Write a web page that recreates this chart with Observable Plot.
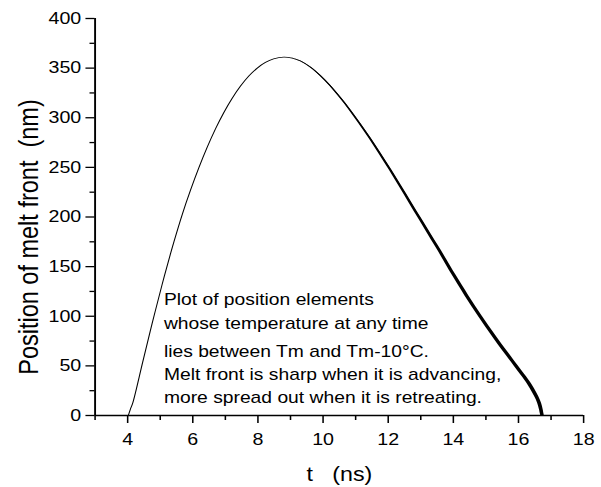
<!DOCTYPE html>
<html><head><meta charset="utf-8">
<script src="https://cdn.jsdelivr.net/npm/d3@7"></script>
<script src="https://cdn.jsdelivr.net/npm/@observablehq/plot@0.6"></script>
<style>
html,body{margin:0;padding:0;background:#fff;}
#chart{width:601px;height:487px;overflow:hidden;}
</style></head><body><div id="chart"></div>
<script>
// Advancing melt front (sharp): time (ns) and position (nm)
const tAdvance   = [4.02, 4.08, 4.16, 4.46, 4.75, 5.05, 5.32, 5.42, 5.68, 5.93, 6.19, 6.44, 6.70, 6.95, 7.21, 7.46, 7.72, 7.97, 8.23, 8.48];
const posAdvance = [0, 6, 13, 53.5, 92.5, 131, 163.5, 175, 203, 227, 249.9, 270.1, 289, 305.1, 319.7, 331.7, 342, 349.8, 355.7, 359.3];
// Retreating melt front (spread out): time, position and spread width (ns) between Tm and Tm-10
const tRetreat   = [8.79, 9.05, 9.30, 9.62, 9.92, 10.23, 10.53, 10.84, 11.14, 11.45, 11.76, 12.07, 12.37, 12.68, 12.98, 13.24, 13.50, 13.76, 14.01, 14.42, 14.83, 15.23, 15.64, 15.95, 16.26, 16.42, 16.56, 16.65, 16.70, 16.74];
const posRetreat = [361.1, 360.1, 357.2, 350.8, 342.4, 331.9, 320.3, 307.3, 293.8, 279.1, 263.6, 247.5, 231.4, 214.7, 198.5, 184.5, 170.5, 156.2, 142.2, 120.5, 100, 81.2, 62.7, 49.1, 35.5, 27.5, 19.1, 12.4, 6.3, 0];
const spreadRetreat = [0, 0.01, 0.02, 0.03, 0.04, 0.05, 0.055, 0.06, 0.065, 0.07, 0.075, 0.08, 0.085, 0.09, 0.095, 0.10, 0.105, 0.11, 0.115, 0.12, 0.12, 0.125, 0.13, 0.13, 0.13, 0.13, 0.125, 0.12, 0.115, 0.11];

const xMajorTicks = [4, 6, 8, 10, 12, 14, 16, 18];
const xMinorTicks = [3, 5, 7, 9, 11, 13, 15, 17];
const yMajorTicks = [0, 50, 100, 150, 200, 250, 300, 350, 400];
const yMinorTicks = [25, 75, 125, 175, 225, 275, 325, 375];

const noteUpper = "Plot of position elements\nwhose temperature at any time";
const noteLower = "lies between Tm and Tm-10°C.\nMelt front is sharp when it is advancing,\nmore spread out when it is retreating.";
const xLabel = "t\u00a0\u00a0\u00a0(ns)";
const yLabel = "Position of melt front\u00a0\u00a0(nm)";

const curve = tAdvance.map((t, i) => ({t, pos: posAdvance[i]}))
  .concat(tRetreat.map((t, i) => ({t, pos: posRetreat[i]})));
const retreat = tRetreat.map((t, i) => ({t, pos: posRetreat[i], w: spreadRetreat[i]}));

const W = 505, H = 487;
const svg = Plot.plot({
  width: W, height: H,
  marginLeft: 79.4, marginRight: 15.1, marginTop: 18, marginBottom: 72,
  x: {domain: [3, 18]},
  y: {domain: [0, 400]},
  style: {fontFamily: "'Liberation Sans', Arial, sans-serif", color: "#000", background: "#fff"},
  marks: [
    Plot.areaX(retreat, {y: "pos", x1: d => d.t - d.w / 2, x2: d => d.t + d.w / 2, fill: "#000", curve: "catmull-rom"}),
    Plot.line(curve, {x: "t", y: "pos", stroke: "#000", strokeWidth: 0.9, curve: "catmull-rom"}),
    Plot.ruleX([3], {stroke: "#000", strokeWidth: 1.6}),
    Plot.ruleY([0], {stroke: "#000", strokeWidth: 1.6}),
    Plot.axisX({ticks: xMajorTicks, tickSize: 8, tickPadding: 9.5, fontSize: 16.5, strokeWidth: 1.3, label: null}),
    Plot.axisX({ticks: xMinorTicks, tickSize: 5, tickFormat: () => "", strokeWidth: 1.3, label: null}),
    Plot.axisY({ticks: yMajorTicks, tickSize: 7.6, tickPadding: 4, fontSize: 16.5, strokeWidth: 1.3, label: null}),
    Plot.axisY({ticks: yMinorTicks, tickSize: 4.2, tickFormat: () => "", strokeWidth: 1.3, label: null}),
    Plot.text([noteUpper], {frameAnchor: "bottom-left", textAnchor: "start", lineAnchor: "bottom", lineHeight: 1.44, dx: 57.8, dy: -86.7, fontSize: 16.2, fill: "#000"}),
    Plot.text([noteLower], {frameAnchor: "bottom-left", textAnchor: "start", lineAnchor: "bottom", lineHeight: 1.44, dx: 57.8, dy: -12.3, fontSize: 16.2, fill: "#000"}),
    Plot.text([xLabel], {frameAnchor: "bottom", textAnchor: "middle", lineAnchor: "middle", dy: 58.8, fontSize: 19.5, fill: "#000"}),
    Plot.text([yLabel], {frameAnchor: "left", rotate: -90, textAnchor: "middle", lineAnchor: "middle", dx: -55.6, dy: 20, fontSize: 23.5, fill: "#000"})
  ]
});
svg.setAttribute("width", 601);
svg.setAttribute("height", H);
svg.setAttribute("viewBox", `0 0 ${W} ${H}`);
svg.setAttribute("preserveAspectRatio", "none");
svg.style.width = "601px";
svg.style.height = H + "px";
svg.style.maxWidth = "none";
document.getElementById("chart").appendChild(svg);
</script>
</body></html>
